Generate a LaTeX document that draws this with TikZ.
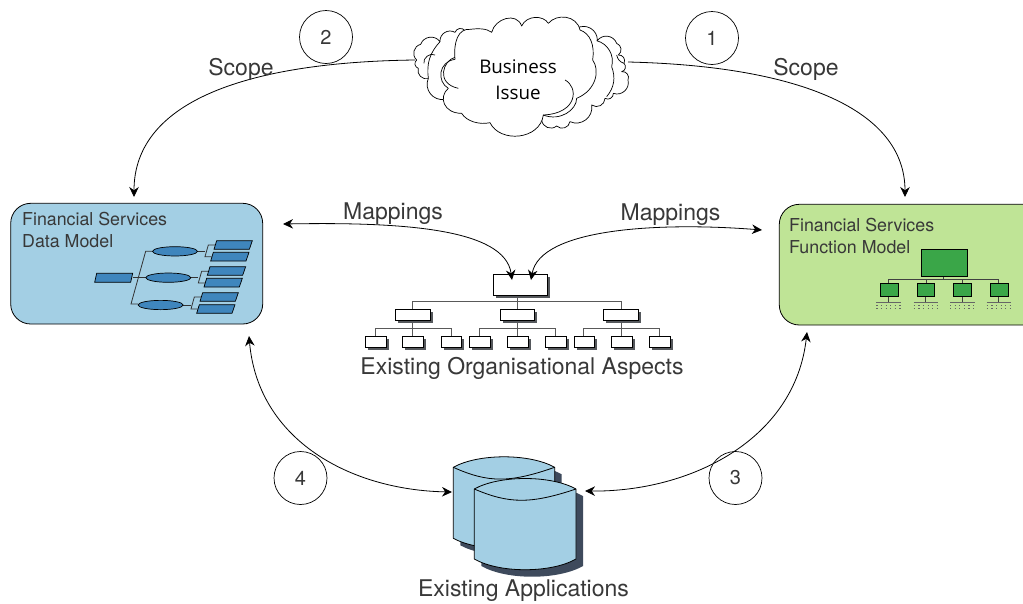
\documentclass[tikz,border=0pt]{standalone}
\usepackage{fontspec}
\setmainfont{TeX Gyre Heros}
\newfontfamily\cloudfont{Open Sans}
\usetikzlibrary{arrows.meta,shapes.geometric}
\definecolor{bluebox}{HTML}{A3CFE4}
\definecolor{greenbox}{HTML}{BFE496}
\definecolor{midblue}{HTML}{3F86BD}
\definecolor{midgreen}{HTML}{3AA648}
\definecolor{orgshadow}{HTML}{55585C}
\definecolor{dbshade}{HTML}{3E4A5C}
\definecolor{txt}{HTML}{383838}
\tikzset{
  flow/.style={line width=.8pt,draw=black,-{Stealth[length=10pt,width=9.5pt]}},
  flowboth/.style={line width=.8pt,draw=black,{Stealth[length=10pt,width=9.5pt]}-{Stealth[length=10pt,width=9.5pt]}},
  numcircle/.style={circle,draw=black,line width=.7pt,minimum size=53pt,inner sep=0pt,font=\fontsize{20}{20}\selectfont,text=txt},
  biglabel/.style={inner sep=0pt,text=txt,font=\fontsize{23}{27}\selectfont},
  modeltitle/.style={inner sep=0pt,anchor=north west,align=left,text=txt,font=\fontsize{17.8}{22}\selectfont},
  modelbox/.style={rounded corners=20pt,draw=black,line width=.8pt},
  orgbox/.style={rectangle,draw=black,fill=white,line width=.8pt,inner sep=0pt,anchor=north west},
  orgline/.style={draw=black!65,line width=1pt},
  bumpout/.style={bend left=62,looseness=1.15},
  bumprev/.style={bend right=62,looseness=1.15},
  cloudline/.style={draw=black,line width=.7pt,line join=round},
  part/.style={draw=black,fill=midblue,line width=.7pt},
  dmline/.style={draw=black!80,line width=.8pt},
  fmbox/.style={rectangle,draw=black,fill=midgreen,line width=.8pt,inner sep=0pt,anchor=north west},
  fmline/.style={draw=black!75,line width=.9pt},
  cyl/.style={draw=black,fill=bluebox,line width=.8pt,line join=round},
}
% org box with shadow: name, x1, y1, x2, y2
\newcommand{\orgnode}[5]{%
  \fill[orgshadow] (#2+3,#3+3) rectangle (#4+3,#5+3);
  \node[orgbox,minimum width=#4pt-#2pt,minimum height=#5pt-#3pt] (#1) at (#2,#3) {};
}
\newcommand{\fmnode}[5]{%
  \node[fmbox,minimum width=#4pt-#2pt,minimum height=#5pt-#3pt] (#1) at (#2,#3) {};
}
\newcommand{\cylbody}[8]{% xl xr ytop ypeak ywave ybot ybotpeak fill-style
  \path[#8] (#1,#3) .. controls (#1+25,#4-1) and (#2-25,#4-1) .. (#2,#3)
    -- (#2,#6) .. controls (#2-25,#7+1) and (#1+25,#7+1) .. (#1,#6) -- cycle;
}
\newcommand{\cylwave}[5]{% xl xr ytop ywave
  \draw[#5] (#1,#3) .. controls (#1+35,#4+1) and (#2-45,#4+1) .. (#2,#3);
}
\begin{document}
\begin{tikzpicture}[x=1pt,y=-1pt]
\useasboundingbox (0,0) rectangle (1023,603);

% ---------- model boxes
\path[modelbox,fill=bluebox] (10.7,203.3) rectangle (262.7,324);
\begin{scope}
\clip (0,0) rectangle (1023,603);
\path[modelbox,fill=greenbox] (779.3,204.3) rectangle (1045,325);
\end{scope}
\node[modeltitle] (dmtitle) at (22,212) {Financial Services\\Data Model};
\node[modeltitle] (fmtitle) at (789,218) {Financial Services\\Function Model};

% ---------- data model glyph (3x zoom coordinates)
\begin{scope}[shift={(0,190)},x=.33333pt,y=-.33333pt]
  \draw[dmline] (398,263) -- (437,263);
  \draw[dmline] (457,184) -- (437,184) -- (393,342) -- (415,342);
  \foreach \ox/\oy/\ax/\ay/\bx/\by in {592/184/645/165/635/200,572/263/625/244/615/279,549/345/603/321/593/357}{
    \draw[dmline] (\ox,\oy) -- (\ox+23,\oy);
    \draw[dmline] (\ax,\ay) -- (\ax-20,\ay) -- (\bx-20,\by) -- (\bx,\by);
  }
  \path[part] (290,250) -- (398,250) -- (392,277) -- (284,277) -- cycle;
  \node[part,ellipse,minimum width=45pt,minimum height=9.3pt,inner sep=0pt] (ea) at (525,184) {};
  \node[part,ellipse,minimum width=45pt,minimum height=9.3pt,inner sep=0pt] (eb) at (505,263) {};
  \node[part,ellipse,minimum width=45pt,minimum height=9.3pt,inner sep=0pt] (ec) at (482,345) {};
  \foreach \tx/\ty in {650/152,640/187,630/230,620/265,608/308,598/344}{
    \path[part] (\tx,\ty) -- (\tx+107,\ty) -- (\tx+98,\ty+26) -- (\tx-8,\ty+26) -- cycle;
  }
\end{scope}

% ---------- function model glyph
\draw[fmline] (888.3,279) -- (998.7,279);
\draw[fmline] (943.7,276) -- (943.7,279);
\foreach \tx/\sx in {888.3/888.3,926/925.7,962.3/962,998.7/998.7}{
  \draw[fmline] (\tx,279) -- (\tx,282.7);
  \draw[fmline] (\sx,296) -- (\sx,302.5);
  \draw[black!60,line width=.7pt] (\sx-12,302.7) -- (\sx+12.5,302.7);
  \draw[black!60,line width=.7pt,dash pattern=on 1.2pt off 3.4pt] (\sx-12,305.5) -- (\sx+12.5,305.5);
  \draw[black!60,line width=.7pt,dash pattern=on 1.2pt off 3.4pt] (\sx-12,308.5) -- (\sx+12.5,308.5);
}
\fmnode{fma}{921}{249.3}{966.7}{276}
\fmnode{fmb}{880.3}{282.7}{897.7}{296}
\fmnode{fmc}{917}{282.7}{934.3}{296}
\fmnode{fmd}{953.3}{282.7}{970.7}{296}
\fmnode{fme}{990.3}{282.7}{1007.7}{296}

% ---------- organisation chart
\foreach \y/\xa/\xb in {301.7/412.3/621.7,328.3/375/451,328.3/479.3/555.7,328.3/583.7/659.7}{
  \draw[orgline] (\xa,\y) -- (\xb,\y);
}
\draw[orgline] (517.7,295) -- (517.7,309.3);
\draw[orgline] (412.3,301.7) -- (412.3,309.3);
\draw[orgline] (621.7,301.7) -- (621.7,309.3);
\foreach \x in {412.3,517.7,621.7}{\draw[orgline] (\x,320) -- (\x,335.7);}
\foreach \x in {375,451,479.3,555.7,583.7,659.7}{\draw[orgline] (\x,328.3) -- (\x,335.7);}
\orgnode{oa}{493.3}{274}{546.7}{295}
\orgnode{ob}{395}{309.3}{430}{320}
\orgnode{oc}{499.7}{309.3}{534.3}{320}
\orgnode{od}{603.3}{309.3}{638.3}{320}
\orgnode{le}{365}{335.7}{385.7}{346.7}
\orgnode{lf}{402.3}{335.7}{423}{346.7}
\orgnode{lg}{440.7}{335.7}{461.3}{346.7}
\orgnode{lh}{469.3}{335.7}{490}{346.7}
\orgnode{li}{507.3}{335.7}{527.7}{346.7}
\orgnode{lj}{545.3}{335.7}{566}{346.7}
\orgnode{lk}{573.7}{335.7}{594.3}{346.7}
\orgnode{ll}{611.3}{335.7}{631.7}{346.7}
\orgnode{lm}{649.3}{335.7}{669.7}{346.7}
\node[biglabel] (orglabel) at (522,368) {Existing Organisational Aspects};

% ---------- cylinders
\begin{scope}[shift={(7,7)}]
  \cylbody{453.3}{554.7}{467.3}{454.3}{478}{538.3}{551}{fill=dbshade}
  \cylbody{474.3}{576}{489}{476}{500}{559}{572.3}{fill=dbshade}
\end{scope}
\cylbody{453.3}{554.7}{467.3}{454.3}{478}{538.3}{551}{cyl}
\cylwave{453.3}{554.7}{467.3}{482}{draw=black,line width=.8pt}
\cylbody{474.3}{576}{489}{476}{500}{559}{572.3}{cyl}
\cylwave{474.3}{576}{489}{503}{draw=black,line width=.8pt}
\node[biglabel] (applabel) at (523.5,591) {Existing Applications};

% ---------- cloud (3x zoom coordinates)
\begin{scope}[shift={(400,0)},x=.33333pt,y=-.33333pt]
  % back right
  \path[cloudline,fill=white] (530,85) to[bumpout] (592,122) to[bumpout] (650,130) to[bumpout] (655,165)
     to[bumpout] (672,190) to[bumpout] (665,215) to[bumpout] (684,240) to[bumpout] (640,280) to[bumpout] (615,295)
     to[bumpout] (575,315) to[bumpout] (510,365) to[bumpout] (470,378) to[bumpout] (425,360) -- (400,200) -- cycle;
  % back left
  \path[cloudline,fill=white] (195,92) to[bumprev] (165,97) to[bumprev] (120,125) to[bumprev] (62,133)
     to[bumprev] (50,180) to[bumprev] (55,205) to[bumprev] (85,235) to[bumprev] (135,298) -- (300,200) -- cycle;
  \draw[cloudline] (72,190) to[bend left=70] (105,165);
  \draw[cloudline] (120,125) to[bend right=25] (85,235);
  \draw[cloudline] (590,122) to[bend left=45] (635,200);
  \draw[cloudline] (635,200) to[bend left=30] (620,290);
  \draw[cloudline] (650,165) to[bend right=30] (672,190);
  % front
  \path[cloudline,fill=white] (165,178) .. controls (160,125) and (175,85) .. (210,88)
     .. controls (235,85) and (260,85) .. (275,97)
     .. controls (285,55) and (350,35) .. (365,78)
     .. controls (380,45) and (430,45) .. (445,70)
     .. controls (470,40) and (530,45) .. (540,90)
     .. controls (570,100) and (585,135) .. (578,180)
     .. controls (600,210) and (590,270) .. (530,295)
     .. controls (530,330) and (480,365) .. (430,345)
     .. controls (420,420) and (300,430) .. (270,368)
     .. controls (240,375) and (200,365) .. (185,340)
     .. controls (130,340) and (115,290) .. (145,265)
     .. controls (110,245) and (115,185) .. (165,178) -- cycle;
  \draw[cloudline] (165,172) .. controls (130,180) and (105,250) .. (175,265);
  \draw[cloudline] (495,240) .. controls (535,260) and (535,340) .. (430,345);
\end{scope}
\node[inner sep=0pt,align=center,text=black,font=\cloudfont\fontsize{18.8}{26}\selectfont] (issue) at (518,79.5) {Business\\Issue};

% ---------- arrows
\coordinate (cl) at (415,60);
\coordinate (cr) at (628,62);
\coordinate (dmt) at (134,197);
\coordinate (fmt) at (905,197);
\coordinate (dmr) at (283,224);
\coordinate (fmr) at (762,230);
\coordinate (ol) at (512,280);
\coordinate (or) at (531,280);
\coordinate (dmb) at (249,336);
\coordinate (fmbt) at (807,332);
\coordinate (dbl) at (452,492);
\coordinate (dbr) at (585,491);
\draw[flow] (cl) .. controls (250,62) and (134,100) .. (dmt);
\draw[flow] (cr) .. controls (800,66) and (905,110) .. (fmt);
\draw[flowboth] (dmr) .. controls (400,222) and (505,228) .. (ol);
\draw[flowboth] (fmr) .. controls (660,222) and (540,228) .. (or);
\draw[flowboth] (dmb) .. controls (258,440) and (350,490) .. (dbl);
\draw[flowboth] (fmbt) .. controls (795,440) and (690,492) .. (dbr);

% ---------- labels
\node[numcircle] (n2) at (326,37) {2};
\node[numcircle] (n1) at (712,38) {1};
\node[numcircle] (n4) at (300.5,478) {4};
\node[numcircle] (n3) at (735.5,478) {3};
\node[biglabel] (s2) at (241,69) {Scope};
\node[biglabel] (s1) at (806,69) {Scope};
\node[biglabel] (m1) at (393,214) {Mappings};
\node[biglabel] (m2) at (670.5,215) {Mappings};
\end{tikzpicture}
\end{document}
